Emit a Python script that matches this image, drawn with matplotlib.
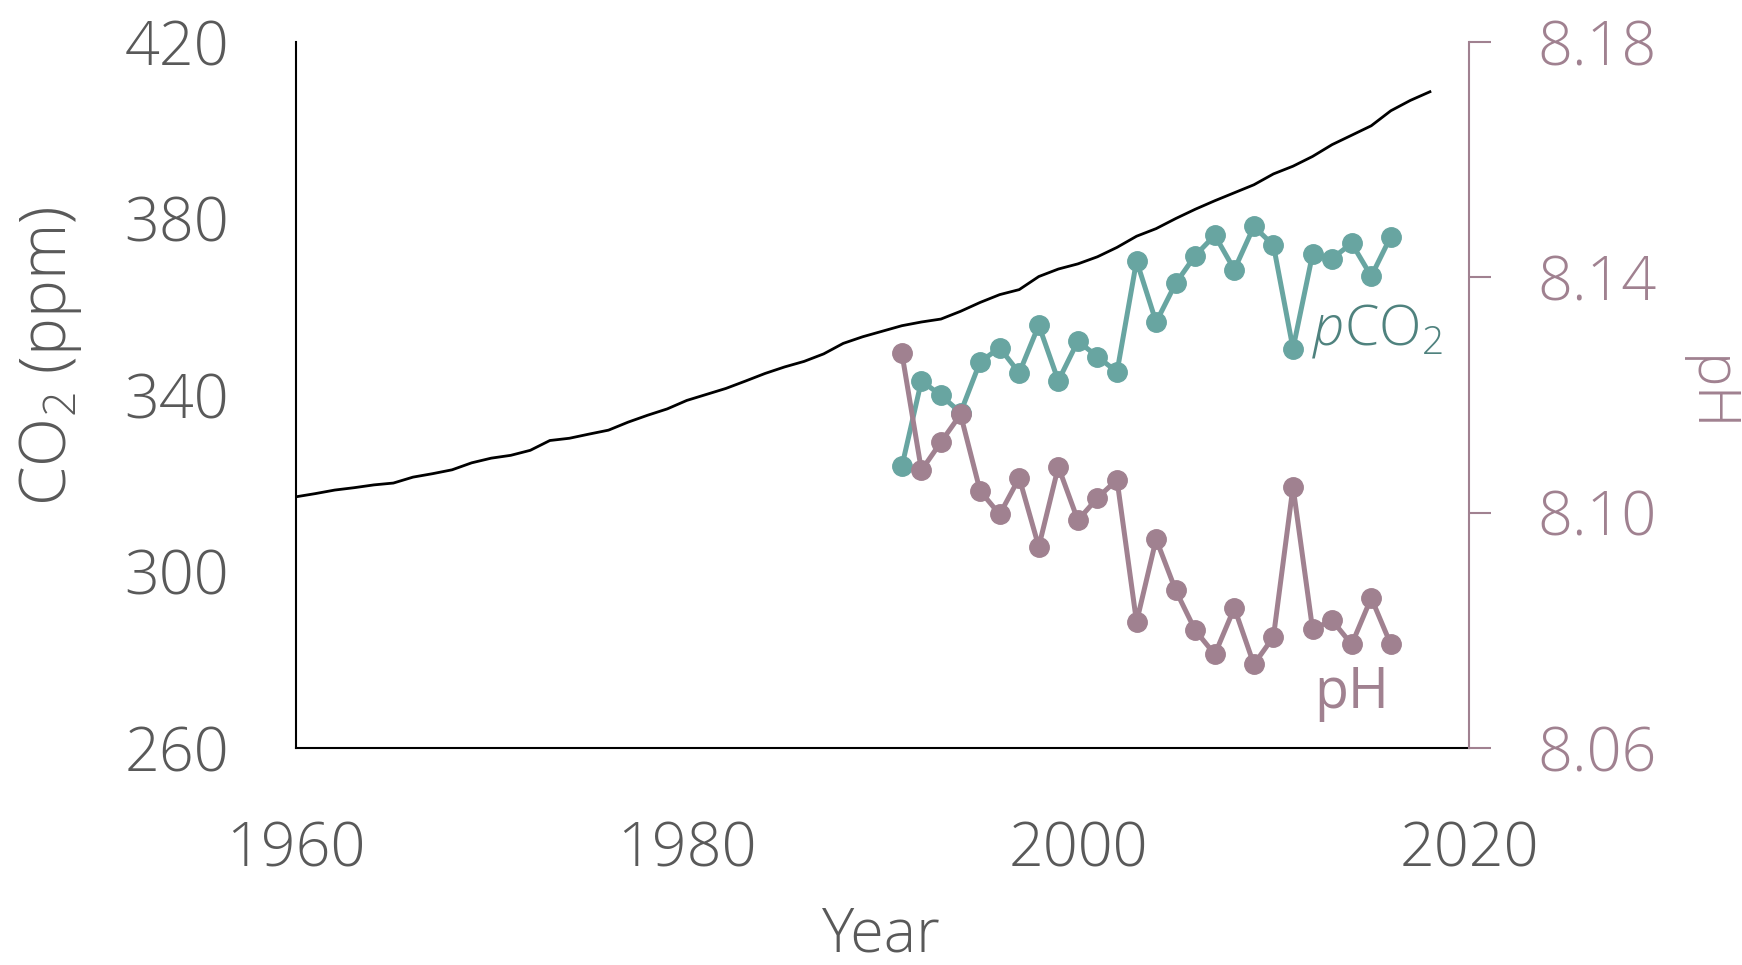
import matplotlib
matplotlib.use('Agg')
import matplotlib.pyplot as plt
from matplotlib.ticker import FormatStrFormatter

# Atmospheric CO2 (annual mean, ppm)
years_atm = list(range(1960, 2019))
co2_atm = [316.91, 317.64, 318.45, 318.99, 319.62, 320.04, 321.38, 322.16, 323.04, 324.62,
           325.68, 326.32, 327.46, 329.68, 330.19, 331.13, 332.03, 333.84, 335.41, 336.84,
           338.76, 340.12, 341.48, 343.15, 344.87, 346.35, 347.61, 349.31, 351.69, 353.20,
           354.45, 355.70, 356.54, 357.21, 358.96, 360.97, 362.74, 363.88, 366.84, 368.54,
           369.71, 371.32, 373.45, 375.98, 377.70, 379.98, 382.09, 384.02, 385.83, 387.64,
           390.10, 391.85, 394.06, 396.74, 398.87, 401.01, 404.41, 406.76, 408.72]

# Seawater pCO2 and pH (annual)
years_sea = list(range(1991, 2017))
pco2 = [323.8, 343.2, 339.9, 336.0, 347.5, 350.7, 345.0, 355.8, 343.2, 352.2,
        348.7, 345.2, 370.4, 356.5, 365.3, 371.6, 376.2, 368.4, 378.2, 373.9,
        350.5, 371.9, 370.9, 374.4, 366.9, 375.9]
ph = [8.1271, 8.1072, 8.1120, 8.1167, 8.1037, 8.0997, 8.1059, 8.0942, 8.1078, 8.0987,
      8.1025, 8.1056, 8.0814, 8.0955, 8.0868, 8.0800, 8.0759, 8.0838, 8.0742, 8.0789,
      8.1044, 8.0802, 8.0817, 8.0776, 8.0855, 8.0776]

x_ticks = [1960, 1980, 2000, 2020]
co2_ticks = [260, 300, 340, 380, 420]
ph_ticks = [8.06, 8.10, 8.14, 8.18]

TEAL = '#68A5A1'
TEAL_DARK = '#4F827E'
MAUVE = '#A08190'
GRAY = '#595959'

plt.rcParams['font.family'] = ['Open Sans', 'DejaVu Sans']
plt.rcParams['font.weight'] = 'light'
plt.rcParams['mathtext.fontset'] = 'custom'
plt.rcParams['mathtext.rm'] = 'Open Sans'
plt.rcParams['mathtext.it'] = 'Open Sans:italic'

fig = plt.figure(figsize=(17.42, 9.65), dpi=100)
ax = fig.add_axes([0.1697, 0.2249, 0.6736, 0.7316])

ax.plot(years_atm, co2_atm, color='black', lw=2.0, zorder=3)
ax.plot(years_sea, pco2, color=TEAL, lw=3.6, marker='o', ms=14, zorder=4)

ax.set_xlim(1960, 2020)
ax.set_ylim(260, 420)
ax.set_xticks(x_ticks)
ax.set_yticks(co2_ticks)
for s in ['top', 'right']:
    ax.spines[s].set_visible(False)
for s in ['left', 'bottom']:
    ax.spines[s].set_linewidth(1.5)
    ax.spines[s].set_color('black')
ax.tick_params(axis='y', length=0, pad=48, labelsize=44, labelcolor=GRAY)
ax.tick_params(axis='x', length=0, pad=52, labelsize=44, labelcolor=GRAY)

ax2 = ax.twinx()
ax2.plot(years_sea, ph, color=MAUVE, lw=3.6, marker='o', ms=14, zorder=5)
ax2.set_ylim(8.06, 8.18)
ax2.set_yticks(ph_ticks)
ax2.yaxis.set_major_formatter(FormatStrFormatter('%.2f'))
for s in ['top', 'left', 'bottom']:
    ax2.spines[s].set_visible(False)
ax2.spines['right'].set_color(MAUVE)
ax2.spines['right'].set_linewidth(1.5)
ax2.tick_params(axis='y', direction='out', length=16, width=1.5, color=MAUVE,
                pad=33, labelsize=44, labelcolor=MAUVE)

ax.text(0.866, 0.572, r'$\mathit{p}$CO$_2$', transform=ax.transAxes,
        fontsize=40, color=TEAL_DARK, ha='left', va='baseline')
ax.text(0.868, 0.0567, 'pH', transform=ax.transAxes,
        fontsize=40, color=MAUVE, ha='left', va='baseline', fontweight='normal')

fig.text(50 / 1742, 1 - 356 / 965, r'CO$_2$ (ppm)', rotation=90,
         ha='center', va='center', fontsize=46, color=GRAY)
fig.text(1708 / 1742, 1 - 394 / 965, 'pH', rotation=270,
         ha='center', va='center', fontsize=42, color=MAUVE)
fig.text(881 / 1742, 1 - 951 / 965, 'Year', ha='center', va='baseline',
         fontsize=44, color=GRAY)

fig.savefig('out.png', dpi=100)
